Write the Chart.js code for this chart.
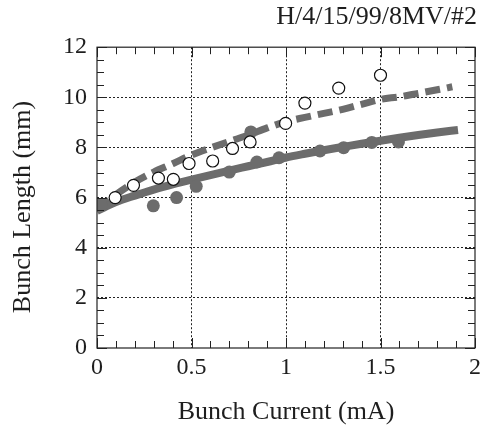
<!DOCTYPE html>
<html><head><meta charset="utf-8">
<script src="https://cdn.jsdelivr.net/npm/chart.js@4.4.0/dist/chart.umd.min.js"></script>
<style>html,body{margin:0;padding:0;background:#fff}#wrap{width:486px;height:426px}</style>
</head><body><div id="wrap"><canvas id="c" width="486" height="426"></canvas></div>
<script>
const chartTitle = 'H/4/15/99/8MV/#2';
const xAxisTitle = 'Bunch Current (mA)';
const yAxisTitle = 'Bunch Length (mm)';
const xTickLabels = ['0', '0.5', '1', '1.5', '2'];
const yTickLabels = ['0', '2', '4', '6', '8', '10', '12'];

// open circles (measured)
const openX = [0.096, 0.193, 0.325, 0.404, 0.487, 0.612, 0.717, 0.81, 0.998, 1.10, 1.279, 1.50];
const openY = [6.00, 6.49, 6.78, 6.73, 7.36, 7.46, 7.96, 8.22, 8.96, 9.77, 10.37, 10.88];

// filled circles (measured)
const filledX = [0.02, 0.298, 0.421, 0.525, 0.70, 0.814, 0.846, 0.963, 1.18, 1.305, 1.454, 1.595];
const filledY = [5.72, 5.67, 6.00, 6.45, 7.02, 8.62, 7.42, 7.59, 7.86, 7.99, 8.20, 8.22];

// solid curve
const solidX = [0, 0.1, 0.2, 0.3, 0.4, 0.5, 0.6, 0.7, 0.8, 0.9, 1.0, 1.1, 1.2, 1.3, 1.4, 1.5, 1.6, 1.7, 1.8, 1.91];
const solidY = [5.47, 5.82, 6.08, 6.32, 6.53, 6.72, 6.90, 7.08, 7.25, 7.42, 7.60, 7.75, 7.89, 8.02, 8.15, 8.27, 8.39, 8.50, 8.60, 8.70];

// dashed curve
const dashedX = [0, 0.1, 0.2, 0.3, 0.4, 0.5, 0.6, 0.7, 0.8, 0.9, 1.0, 1.1, 1.2, 1.3, 1.4, 1.5, 1.6, 1.7, 1.8, 1.88];
const dashedY = [5.55, 6.12, 6.62, 7.02, 7.35, 7.70, 7.98, 8.24, 8.49, 8.78, 9.03, 9.20, 9.36, 9.52, 9.72, 9.92, 10.02, 10.16, 10.30, 10.42];

const pts = (xs, ys) => xs.map((x, i) => ({x, y: ys[i]}));
const SERIF = "'Liberation Serif', 'Times New Roman', serif";
const TXT = '#1e1e1e';
const GRAY = '#6c6c6c';

const framePlugin = {
  id: 'frame',
  afterDatasetsDraw(chart) {
    const {ctx, chartArea: a, scales: {x, y}} = chart;
    ctx.save();
    ctx.strokeStyle = '#222';
    ctx.lineWidth = 1.2;
    ctx.strokeRect(a.left, a.top, a.right - a.left, a.bottom - a.top);
    ctx.lineWidth = 1;
    ctx.beginPath();
    for (let i = 0; i <= 20; i++) {
      const v = i / 10;
      const px = Math.round(x.getPixelForValue(v)) + 0.5;
      const len = (i % 5 === 0) ? 10 : 7;
      ctx.moveTo(px, a.bottom); ctx.lineTo(px, a.bottom - len);
      ctx.moveTo(px, a.top); ctx.lineTo(px, a.top + len);
    }
    for (let i = 0; i <= 24; i++) {
      const v = i / 2;
      const py = Math.round(y.getPixelForValue(v)) + 0.5;
      const len = (i % 4 === 0) ? 10 : 7;
      ctx.moveTo(a.left, py); ctx.lineTo(a.left + len, py);
      ctx.moveTo(a.right, py); ctx.lineTo(a.right - len, py);
    }
    ctx.stroke();
    ctx.restore();
  },
  afterDraw(chart) {
    const {ctx} = chart;
    ctx.save();
    ctx.fillStyle = TXT;
    ctx.font = '26px ' + SERIF;
    ctx.textAlign = 'center';
    ctx.textBaseline = 'middle';
    ctx.translate(23, 207);
    ctx.rotate(-Math.PI / 2);
    ctx.fillText(yAxisTitle, 0, 0);
    ctx.restore();
  }
};

new Chart(document.getElementById('c'), {
  type: 'scatter',
  data: {
    datasets: [
      {label: 'open', data: pts(openX, openY), order: 0, pointRadius: 6, pointBackgroundColor: '#fff', pointBorderColor: '#111', pointBorderWidth: 1.2, showLine: false},
      {label: 'filled', data: pts(filledX, filledY), order: 1, pointRadius: 6.5, pointBackgroundColor: GRAY, pointBorderColor: GRAY, pointBorderWidth: 0, showLine: false},
      {label: 'solid', data: pts(solidX, solidY), order: 2, showLine: true, borderColor: GRAY, borderWidth: 8, pointRadius: 0, cubicInterpolationMode: 'monotone', borderCapStyle: 'butt'},
      {label: 'dashed', data: pts(dashedX, dashedY), order: 3, showLine: true, borderColor: GRAY, borderWidth: 7, borderDash: [15, 7], pointRadius: 0, cubicInterpolationMode: 'monotone', borderCapStyle: 'butt'}
    ]
  },
  options: {
    responsive: false,
    animation: false,
    devicePixelRatio: 1,
    layout: {padding: {left: 0, right: 9, top: 0, bottom: 0}},
    plugins: {
      legend: {display: false},
      tooltip: {enabled: false},
      title: {display: true, text: chartTitle, align: 'end', color: TXT,
        font: {family: SERIF, size: 26, weight: 'normal', lineHeight: 1.2}, padding: {top: 2, bottom: 14}}
    },
    scales: {
      x: {
        type: 'linear', min: 0, max: 2,
        afterFit: s => { s.height = 78; },
        ticks: {stepSize: 0.5, color: TXT, padding: 5, maxRotation: 0,
          font: {family: SERIF, size: 24},
          callback: v => xTickLabels[Math.round(v * 2)] ?? ''},
        grid: {drawTicks: false, color: c => (c.tick && (c.tick.value === 0 || c.tick.value === 2)) ? 'rgba(0,0,0,0)' : '#222', lineWidth: 1},
        border: {display: false, dash: [2, 2]},
        title: {display: true, text: xAxisTitle, color: TXT, font: {family: SERIF, size: 26, lineHeight: 1}, padding: {top: 0, bottom: 1}}
      },
      y: {
        type: 'linear', min: 0, max: 12,
        afterFit: s => { s.width = 97; },
        ticks: {stepSize: 2, color: TXT, padding: 10,
          font: {family: SERIF, size: 24},
          callback: v => yTickLabels[Math.round(v / 2)] ?? ''},
        grid: {drawTicks: false, color: c => (c.tick && (c.tick.value === 0 || c.tick.value === 12)) ? 'rgba(0,0,0,0)' : '#222', lineWidth: 1},
        border: {display: false, dash: [2, 2]},
        title: {display: false}
      }
    }
  },
  plugins: [framePlugin]
});
</script></body></html>
